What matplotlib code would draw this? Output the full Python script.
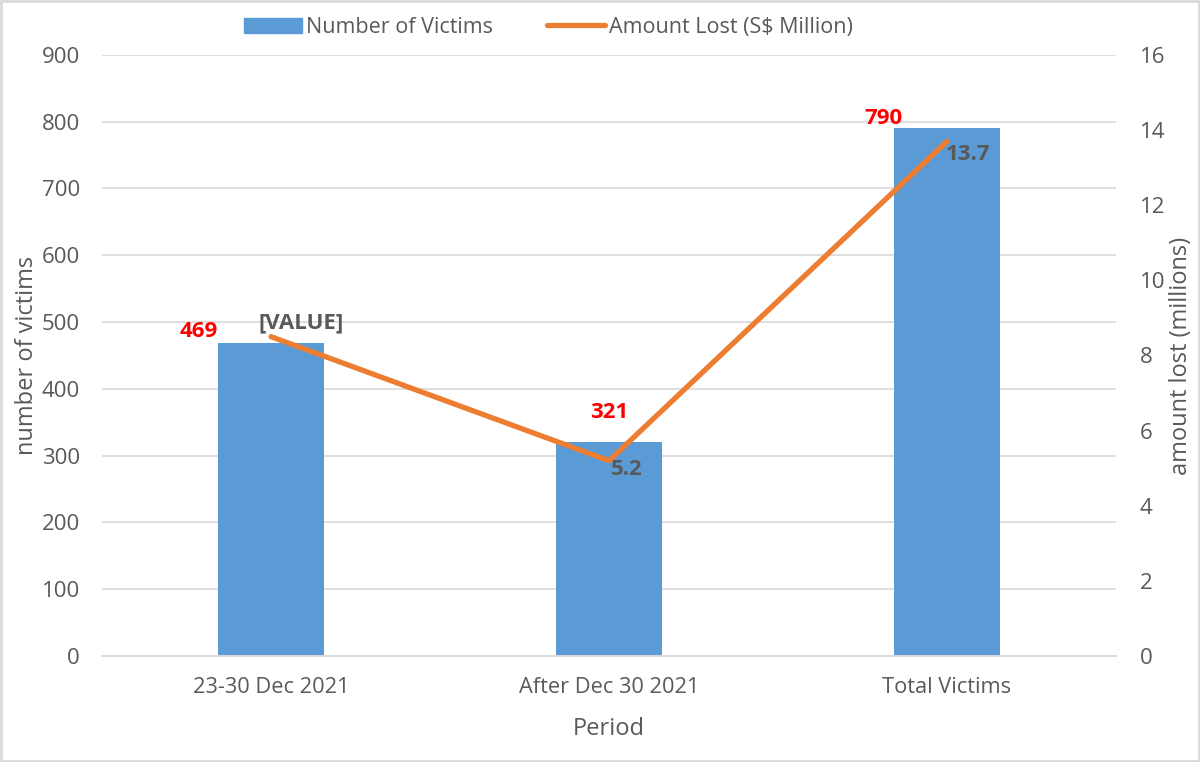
import matplotlib.pyplot as plt
import numpy as np
from matplotlib.patches import Patch
from matplotlib.lines import Line2D

# chart data
periods = ["23-30 Dec 2021", "After Dec 30 2021", "Total Victims"]
victims = [469, 321, 790]
amount_lost = [8.5, 5.2, 13.7]
amount_labels = ["[VALUE]", "5.2", "13.7"]

BLUE = "#5B9BD5"
ORANGE = "#ED7D31"
GRID = "#D9D9D9"
TEXT = "#595959"
RED = "#FF0000"

plt.rcParams["font.family"] = ["Open Sans", "DejaVu Sans"]

fig = plt.figure(figsize=(12, 7.62), dpi=100)
ax = fig.add_axes([0.085, 0.139, 0.845, 0.789])
ax2 = ax.twinx()

x = np.arange(len(periods))
ax.bar(x, victims, width=0.314, color=BLUE, zorder=2)
ax.set_xlim(-0.5, len(periods) - 0.5)
ax.set_ylim(0, 900)
ax.set_yticks(range(0, 901, 100))
ax.grid(axis="y", color=GRID, linewidth=1.2, zorder=0)
ax.set_axisbelow(True)

ax2.plot(x, amount_lost, color=ORANGE, linewidth=3.8, solid_capstyle="round", zorder=3)
ax2.set_ylim(0, 16)
ax2.set_yticks(range(0, 17, 2))

for a in (ax, ax2):
    for s in ("top", "left", "right"):
        a.spines[s].set_visible(False)
    a.spines["bottom"].set_color(GRID)
    a.spines["bottom"].set_linewidth(1.2)
    a.tick_params(length=0, labelsize=16, labelcolor=TEXT)
ax.tick_params(axis="y", pad=16)
ax2.tick_params(axis="y", pad=17)
ax.tick_params(axis="x", pad=15, labelsize=15.7)
ax.set_xticks(x)
ax.set_xticklabels(periods)

ax.set_ylabel("number of victims", fontsize=17, color=TEXT, labelpad=2)
ax2.set_ylabel("amount lost (millions)", fontsize=17, color=TEXT, labelpad=3)
ax.set_xlabel("Period", fontsize=17, color=TEXT, labelpad=14)

# bar value labels (red, bold)
bar_offsets = [(-72, 11), (0, 29), (-64, 10)]
for xi, v, off in zip(x, victims, bar_offsets):
    ax.annotate(str(v), (xi, v), xytext=off, textcoords="offset pixels",
                ha="center", va="center", color=RED, fontsize=16, fontweight="bold")

# line value labels (gray, bold)
line_offsets = [(30, 14), (18, -9), (21, -13)]
for xi, v, lab, off in zip(x, amount_lost, amount_labels, line_offsets):
    ax2.annotate(lab, (xi, v), xytext=off, textcoords="offset pixels",
                 ha="center", va="center", color=TEXT, fontsize=16, fontweight="bold")

# legend
handles = [Patch(color=BLUE, label="Number of Victims"),
           Line2D([0], [0], color=ORANGE, linewidth=3.8, solid_capstyle="round",
                  label="Amount Lost (S$ Million)")]
fig.legend(handles=handles, loc="center", bbox_to_anchor=(0.457, 0.964), ncol=2,
           frameon=False, fontsize=15.5, labelcolor=TEXT, handlelength=2.7,
           handletextpad=0.2, columnspacing=2.5)

# chart border
fig.patches.append(plt.Rectangle((0.001, 0.001), 0.998, 0.998, transform=fig.transFigure,
                                 fill=False, edgecolor=GRID, linewidth=2))

fig.savefig("out.png", dpi=100)
